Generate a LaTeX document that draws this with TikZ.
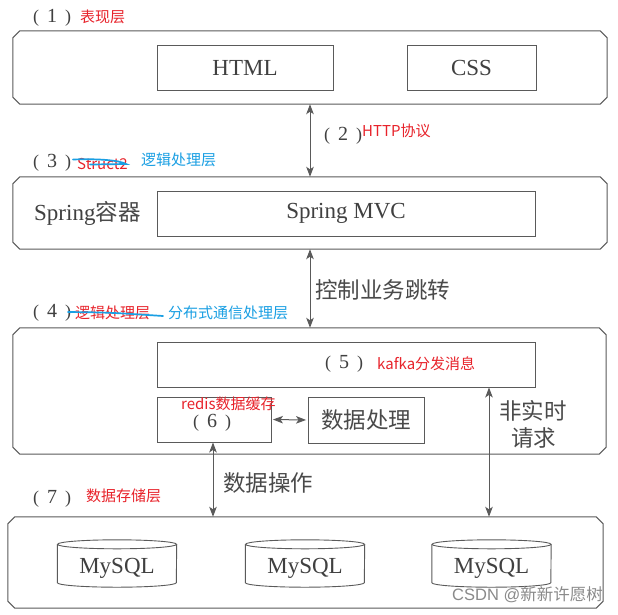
\documentclass[tikz,border=0pt]{standalone}
\usepackage{fontspec}
\setmainfont{Liberation Serif}
\newfontfamily\cjk{Noto Sans CJK SC}
\newfontfamily\lsans{Liberation Sans}
\usetikzlibrary{arrows.meta}
\definecolor{ink}{HTML}{404040}
\definecolor{zink}{HTML}{4A4A4A}
\definecolor{lin}{HTML}{5A5A5A}
\definecolor{anred}{HTML}{E8232B}
\definecolor{anblue}{HTML}{1A9FE3}
\definecolor{wmark}{HTML}{8A8A8A}
\newcommand\pn[1]{{\fontsize{18}{20}\selectfont(}\hspace{8pt}#1\hspace{8pt}{\fontsize{18}{20}\selectfont)}}
\newcommand\chamf[1]{%
  \draw[layerline] ([xshift=7pt]#1.north west) -- ([xshift=-7pt]#1.north east)
   -- ([yshift=-7pt]#1.north east) -- ([yshift=7pt]#1.south east)
   -- ([xshift=-7pt]#1.south east) -- ([xshift=7pt]#1.south west)
   -- ([yshift=7pt]#1.south west) -- ([yshift=-7pt]#1.north west) -- cycle;}
\newcommand\mydb[2]{%
  \node[dbbox] (#1) at (#2,563.5) {};
  \node[num, font=\fontsize{23}{26}\selectfont] (#1t) at (#2,568) {MySQL};
  \draw[dbline] ([yshift=-4.5pt]#1.north west) -- ([yshift=4.5pt]#1.south west)
     arc[start angle=180,end angle=360,x radius=59.5pt,y radius=4.5pt]
     -- ([yshift=-4.5pt]#1.north east);
  \draw[dbline] ([yshift=-4.5pt]#1.north) ellipse[x radius=59.5pt,y radius=4.5pt];
}
\begin{document}
\begin{tikzpicture}[x=1pt,y=-1pt,
  >={Stealth[length=10pt,width=7.5pt,inset=2.5pt]},
  layer/.style={inner sep=0pt},
  layerline/.style={draw=lin, line width=1pt, line join=round},
  ibox/.style={draw=lin, line width=0.9pt, inner sep=0pt, text=ink,
     font=\fontsize{23}{26}\selectfont},
  dbbox/.style={inner sep=0pt, minimum width=119pt, minimum height=47pt},
  dbline/.style={draw=lin, line width=0.9pt},
  num/.style={inner sep=0pt, text=ink, font=\fontsize{20}{24}\selectfont},
  zh/.style={inner sep=0pt, text=zink, font=\cjk\fontsize{22.5}{26}\selectfont},
  anr/.style={inner sep=0pt, text=anred, font=\cjk\fontsize{15}{17}\selectfont},
  anb/.style={inner sep=0pt, text=anblue, font=\cjk\fontsize{15}{17}\selectfont},
  dbl/.style={draw=lin, line width=1pt, <->},
  strike/.style={draw=anblue, line width=1.7pt, line cap=round}
]
\useasboundingbox[fill=white] (0,0) rectangle (618,614);

% layers
\node[layer, minimum width=594pt, minimum height=73pt] (L1) at (310,67.5) {};
\node[layer, minimum width=594pt, minimum height=72pt] (L3) at (310,213) {};
\node[layer, minimum width=593pt, minimum height=126pt] (L4) at (309.5,391) {};
\node[layer, minimum width=595pt, minimum height=91pt] (L7) at (305.5,562.5) {};
\chamf{L1}\chamf{L3}\chamf{L4}\chamf{L7}

% inner boxes
\node[ibox, minimum width=176pt, minimum height=45pt] (HT) at (245,67.5) {HTML};
\node[ibox, minimum width=129pt, minimum height=45pt] (CS) at (471.5,67.5) {CSS};
\node[ibox, minimum width=378pt, minimum height=45pt] (MV) at (346,213.5) {Spring MVC};
\node[ibox, minimum width=378pt, minimum height=45pt] (B5) at (346,364.5) {};
\node[ibox, minimum width=114pt, minimum height=45pt] (B6) at (214,419.5) {};
\node[ibox, minimum width=116pt, minimum height=46pt, text=zink, font=\cjk\fontsize{22.5}{26}\selectfont] (DP) at (366,420) {数据处理};

% databases
\mydb{D1}{117}
\mydb{D2}{305}
\mydb{D3}{491.5}

% connectors
\coordinate (xa) at (310,0);
\coordinate (xb) at (489,0);
\coordinate (xc) at (213,0);
\draw[dbl] (L1.south -| xa) -- (L3.north -| xa);
\draw[dbl] (L3.south -| xa) -- (L4.north -| xa);
\draw[dbl, shorten <=1.5pt, shorten >=1.5pt] (B6.east) -- (DP.west);
\draw[dbl] (B5.south -| xb) -- (L7.north -| xb);
\draw[dbl] (B6.south -| xc) -- (L7.north -| xc);

% texts
\node[num] (t1) at (52,18) {\pn{1}};
\node[anr, anchor=west] (r1) at (80,17) {表现层};
\node[num] (t2) at (343,136) {\pn{2}};
\node[anr, anchor=west] (r2) at (362,131) {HTTP协议};
\node[num] (t3) at (52,163) {\pn{3}};
\node[anr, anchor=west] (r3) at (77,163.5) {Struct2};
\node[anb, anchor=west] (b3) at (141,160) {逻辑处理层};
\node[num, anchor=west, font=\fontsize{23}{26}\selectfont] (sc) at (34,213) {Spring{\cjk\color{zink}\fontsize{22.5}{26}\selectfont 容器}};
\node[zh, anchor=west] (kz) at (315,290) {控制业务跳转};
\node[num] (t4) at (52,313) {\pn{4}};
\node[anr, anchor=west] (r4) at (75,313) {逻辑处理层};
\node[anb, anchor=west] (b4) at (168,313) {分布式通信处理层};
\node[num] (t5) at (344,364) {\pn{5}};
\node[anr, anchor=west] (r5) at (377,364) {kafka分发消息};
\node[num] (t6) at (212,422.5) {\pn{6}};
\node[anr, anchor=west] (r6) at (181,403.5) {redis数据缓存};
\node[zh, anchor=west] (fs1) at (499,411) {非实时};
\node[zh, anchor=west] (fs2) at (511,438) {请求};
\node[zh, anchor=west] (sj) at (223,483) {数据操作};
\node[num] (t7) at (52,499) {\pn{7}};
\node[anr, anchor=west] (r7) at (86,496) {数据存储层};
\node[inner sep=0pt, text=wmark, anchor=east, font=\fontsize{16.5}{18}\selectfont] (wm) at (603,595)
   {{\lsans CSDN @}{\cjk 新新许愿树}};

% blue strike marks
\draw[strike] (73,159.5) .. controls (100,158.5) and (120,160.5) .. (126,164) -- (90,164.5);
\draw[strike] (68,312) .. controls (110,312.5) .. (163,316);
\end{tikzpicture}
\end{document}
